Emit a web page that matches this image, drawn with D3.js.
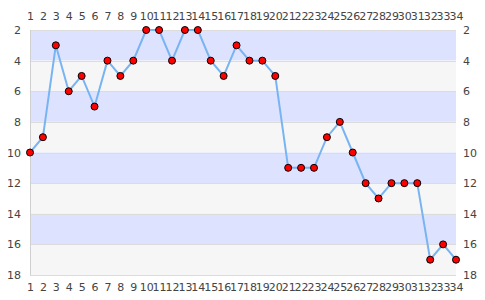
<!DOCTYPE html>
<html><head><meta charset="utf-8">
<script src="https://cdn.jsdelivr.net/npm/d3@7"></script>
<style>body{margin:0;background:#fff}svg{display:block}text{font-family:"DejaVu Sans",sans-serif;font-size:11px;fill:#444}</style>
</head><body><svg id="c" width="485" height="300"></svg>
<script>
const xValues = d3.range(1, 35);
const yValues = [10,9,3,6,5,7,4,5,4,2,2,4,2,2,4,5,3,4,4,5,11,11,11,9,8,10,12,13,12,12,12,17,16,17];
const yTicks = [2,4,6,8,10,12,14,16,18];
const bands = [[2,4],[4,6],[6,8],[8,10],[10,12],[12,14],[14,16],[16,18]];

const svg = d3.select("#c");
const L = 30, R = 456, T = 30, B = 275;
const x = d3.scaleLinear().domain([1, 34]).range([L, R]);
const y = d3.scaleLinear().domain([2, 18]).range([T, B]);

svg.append("g").selectAll("rect").data(bands).join("rect")
  .attr("x", L).attr("width", R - L)
  .attr("y", d => y(d[0])).attr("height", d => y(d[1]) - y(d[0]))
  .attr("fill", (d, i) => i % 2 === 0 ? "#dde3ff" : "#f6f6f6");

svg.append("g").selectAll("line").data(yTicks).join("line")
  .attr("x1", L).attr("x2", R)
  .attr("y1", d => Math.round(y(d)) + 0.5).attr("y2", d => Math.round(y(d)) + 0.5)
  .attr("stroke", "#dcdcdc");
svg.append("line").attr("x1", L + 0.5).attr("x2", L + 0.5).attr("y1", T).attr("y2", B)
  .attr("stroke", "#d0d0d0");

const ax = (g) => g.call(s => s.select(".domain").remove()).call(s => s.selectAll(".tick line").remove());
svg.append("g").attr("transform", `translate(0,${T - 5})`)
  .call(d3.axisTop(x).tickValues(xValues).tickFormat(d3.format("d")).tickSize(0).tickPadding(5)).call(ax);
svg.append("g").attr("transform", `translate(0,${B + 4})`)
  .call(d3.axisBottom(x).tickValues(xValues).tickFormat(d3.format("d")).tickSize(0).tickPadding(4)).call(ax);
svg.append("g").attr("transform", `translate(${L - 9},0)`)
  .call(d3.axisLeft(y).tickValues(yTicks).tickSize(0).tickPadding(0)).call(ax);
svg.append("g").attr("transform", `translate(${R + 7},0)`)
  .call(d3.axisRight(y).tickValues(yTicks).tickSize(0).tickPadding(0)).call(ax);
svg.selectAll(".tick text").attr("fill", "#444").style("font-size", "11px").style("font-family", "DejaVu Sans, sans-serif");

const pts = xValues.map((d, i) => [d, yValues[i]]);
svg.append("path").datum(pts)
  .attr("d", d3.line().x(d => x(d[0])).y(d => y(d[1])))
  .attr("fill", "none").attr("stroke", "#78b4f2").attr("stroke-width", 2);
svg.append("g").selectAll("circle").data(pts).join("circle")
  .attr("cx", d => x(d[0])).attr("cy", d => y(d[1])).attr("r", 3.5)
  .attr("fill", "#ff0000").attr("stroke", "#000").attr("stroke-width", 1);
</script></body></html>
